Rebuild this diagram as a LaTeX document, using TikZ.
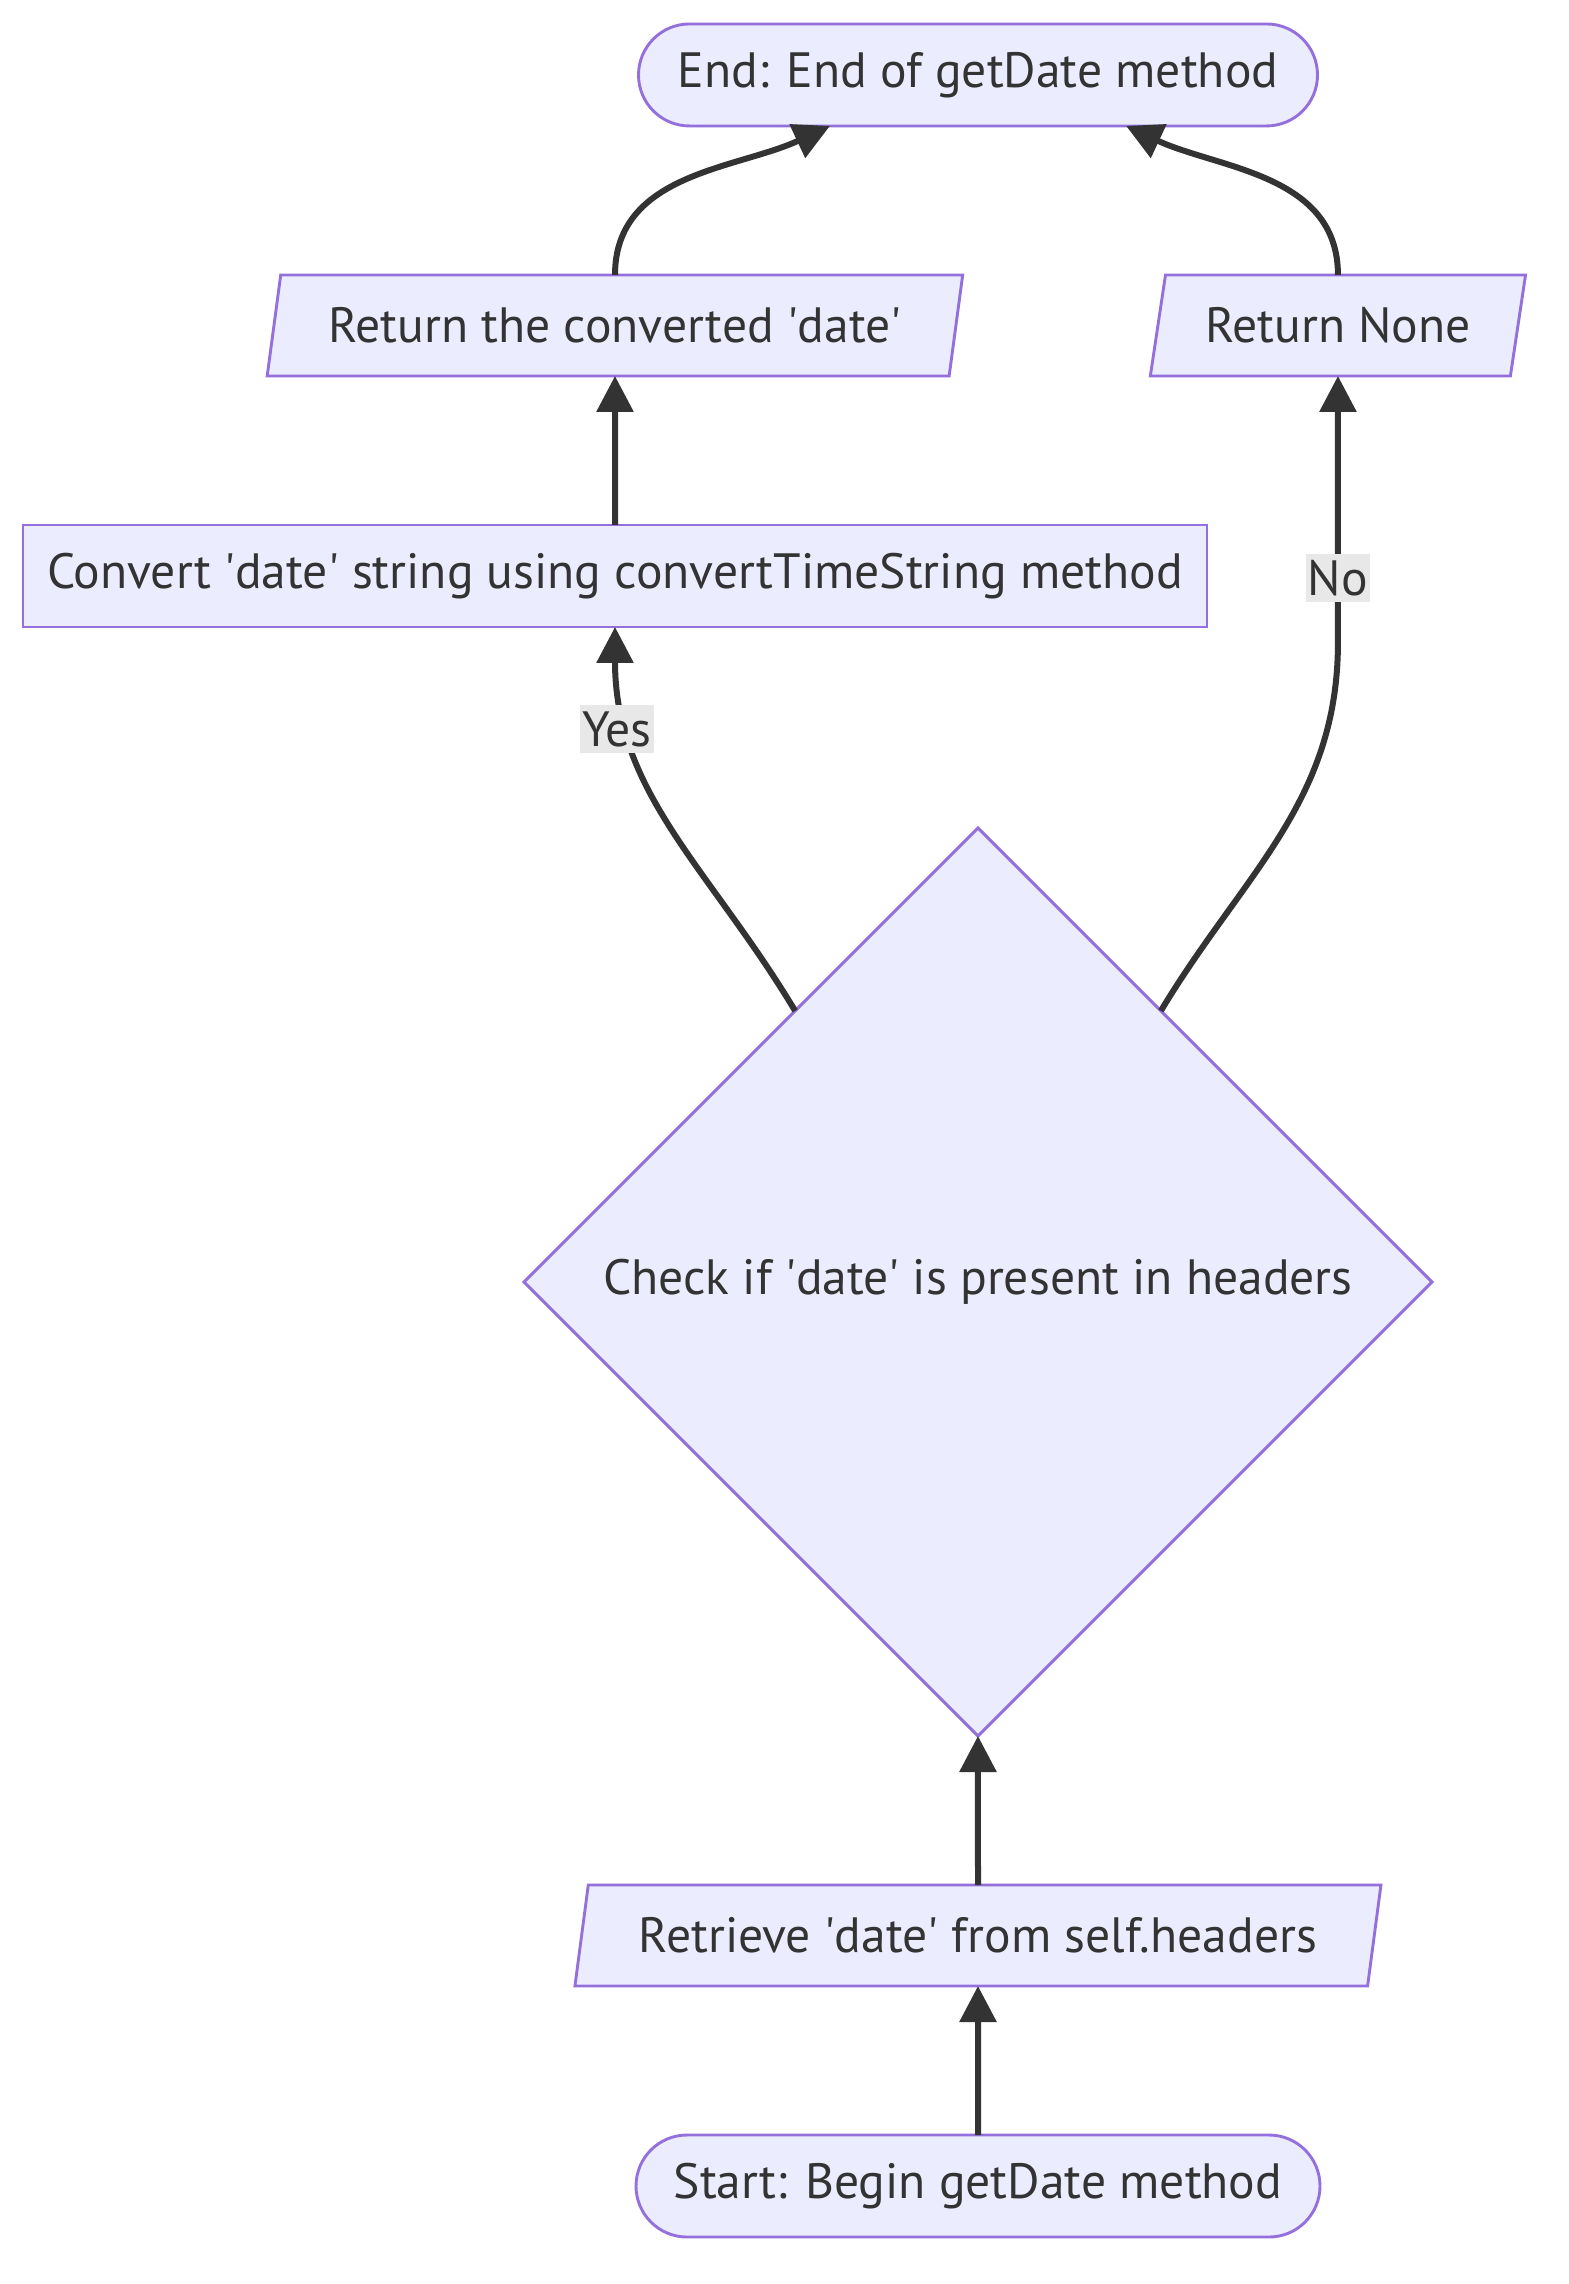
\documentclass[tikz,border=0pt]{standalone}
\usepackage{fontspec}
\newfontfamily\chartfont{PT Sans}
\usetikzlibrary{arrows.meta, chains, positioning, shapes}
\definecolor{nodefill}{HTML}{ECECFF}
\definecolor{nodeline}{HTML}{9370DB}
\definecolor{inkgray}{HTML}{333333}
\definecolor{labelgray}{HTML}{E8E8E8}
\newcommand\apo{\textquotesingle}

\begin{document}
\begin{tikzpicture}[
node distance = 74.5pt,
     start chain = going above,
     base/.style = {draw=nodeline, fill=nodefill, line width=1.45pt,
                    text=inkgray, font=\chartfont\fontsize{24.8}{30}\selectfont,
                    align=center, inner sep=0pt, outer sep=0pt},
startstop/.style = {base, rounded rectangle, minimum height=51pt},
       io/.style = {base, trapezium, trapezium stretches,
                    trapezium left angle=72, trapezium right angle=108,
                    minimum height=50.5pt},
  process/.style = {base, minimum height=51pt},
 decision/.style = {base, diamond, aspect=1, minimum width=454pt, minimum height=454pt},
    arrow/.style = {-{Triangle[length=18pt, width=18pt]}, line width=3pt, draw=inkgray},
   answer/.style = {fill=labelgray, text=inkgray, inner xsep=1pt, inner ysep=3pt,
                    font=\chartfont\fontsize{24.8}{30}\selectfont}
                    ]
\useasboundingbox[fill=white] (0,0) rectangle (784pt,-1142pt);
 % main line
\node (start)    [startstop, minimum width=342pt, on chain] at (489pt,-1093pt) {Start: Begin getDate method};
\node (retrieve) [io, minimum width=405pt, on chain, join=by arrow] {Retrieve \apo date\apo{} from self.headers};
\node (check)    [decision, on chain, join=by arrow] {Check if \apo date\apo{} is present in headers};
 % branches
\node (convert)  [process, minimum width=592pt, above=100.5pt of check.north, xshift=-181.5pt] {Convert \apo date\apo{} string using convertTimeString method};
\node (retconv)  [io, minimum width=349pt, above=of convert] {Return the converted \apo date\apo};
\node (retnone)  [io, minimum width=188pt] at ([xshift=361.5pt]retconv.center) {Return None};
\node (end)      [startstop, minimum width=339.5pt, above=of retconv.north -| check.north] {End: End of getDate method};

\draw[arrow] (check.124) to[out=121, in=-90] node[answer, pos=0.77, xshift=-6pt] {Yes} (convert.south);
\draw[arrow] (check.56) to[out=59, in=-90] ([yshift=-133pt]retnone.south) -- node[answer, pos=0.24] {No} (retnone.south);
\draw[arrow] (convert) -- (retconv);
\draw[arrow] (retconv.north) to[out=90, in=205] (end.199);
\draw[arrow] (retnone.north) to[out=90, in=-25] (end.-19);
\end{tikzpicture}
\end{document}
